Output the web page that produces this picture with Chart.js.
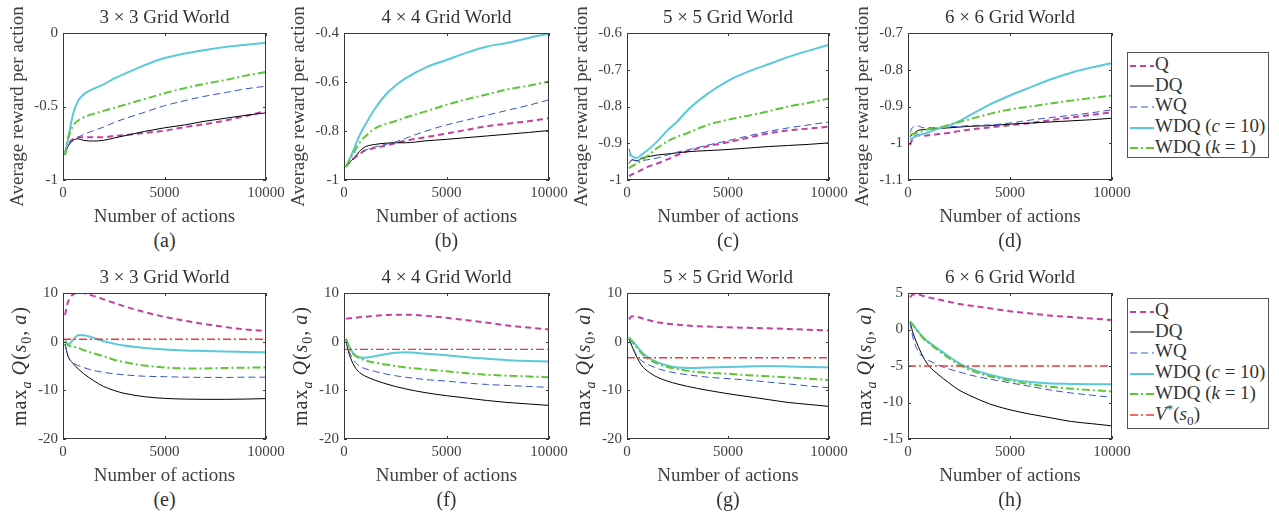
<!DOCTYPE html>
<html>
<head>
<meta charset="utf-8">
<script src="https://cdn.jsdelivr.net/npm/chart.js@4.4.1/dist/chart.umd.min.js"></script>
<style>
    body { margin: 0; background: #fff; }
    #fig { position: relative; width: 1279px; height: 525px; overflow: hidden; font-family: 'Liberation Serif', 'Times New Roman', Times, serif; color: #333; }
    #fig canvas { position: absolute; }
    .txt { position: absolute; white-space: nowrap; text-align: center; height: 24px; line-height: 24px; }
    .legend { position: absolute; border: 1px solid #555; background: #fff; font-size: 19px; }
    .legend .row { position: absolute; left: 2px; height: 22px; line-height: 22px; white-space: nowrap; }
    .legend svg { vertical-align: middle; margin-right: 1px; }
    sub, sup { font-size: 70%; line-height: 0; }
</style>
</head>
<body>
<div id="fig"></div>
<script>
const actions = [100, 250, 500, 750, 1000, 1500, 2000, 2500, 3000, 4000, 5000, 6000, 7000, 8000, 9000, 10000]
const xTicks = [0, 5000, 10000]

// average reward per action
const rew3Q = [-0.81, -0.76, -0.72, -0.71, -0.71, -0.71, -0.71, -0.70, -0.695, -0.68, -0.665, -0.64, -0.62, -0.595, -0.565, -0.53]
const rew3DQ = [-0.82, -0.77, -0.73, -0.72, -0.73, -0.735, -0.73, -0.715, -0.70, -0.67, -0.645, -0.625, -0.60, -0.58, -0.56, -0.543]
const rew3WQ = [-0.83, -0.77, -0.73, -0.71, -0.69, -0.665, -0.64, -0.61, -0.585, -0.54, -0.495, -0.46, -0.43, -0.405, -0.38, -0.362]
const rew3WDQc = [-0.83, -0.72, -0.55, -0.46, -0.42, -0.38, -0.35, -0.31, -0.28, -0.22, -0.17, -0.14, -0.115, -0.095, -0.08, -0.066]
const rew3WDQk = [-0.83, -0.72, -0.63, -0.595, -0.575, -0.55, -0.53, -0.51, -0.49, -0.45, -0.41, -0.375, -0.345, -0.32, -0.29, -0.265]

const rew4Q = [-0.946, -0.93, -0.91, -0.895, -0.88, -0.87, -0.86, -0.85, -0.84, -0.825, -0.81, -0.795, -0.78, -0.77, -0.76, -0.748]
const rew4DQ = [-0.946, -0.93, -0.91, -0.884, -0.866, -0.855, -0.85, -0.848, -0.848, -0.84, -0.834, -0.827, -0.82, -0.813, -0.806, -0.798]
const rew4WQ = [-0.946, -0.93, -0.91, -0.89, -0.88, -0.865, -0.855, -0.845, -0.83, -0.80, -0.775, -0.755, -0.735, -0.715, -0.695, -0.673]
const rew4WDQc = [-0.946, -0.92, -0.87, -0.82, -0.78, -0.71, -0.655, -0.615, -0.585, -0.54, -0.51, -0.48, -0.455, -0.44, -0.42, -0.403]
const rew4WDQk = [-0.946, -0.92, -0.885, -0.85, -0.825, -0.79, -0.772, -0.76, -0.745, -0.72, -0.693, -0.67, -0.65, -0.63, -0.615, -0.598]

const rew5Q = [-0.99, -0.985, -0.978, -0.972, -0.965, -0.955, -0.944, -0.932, -0.922, -0.908, -0.897, -0.885, -0.873, -0.865, -0.86, -0.855]
const rew5DQ = [-0.955, -0.945, -0.948, -0.94, -0.937, -0.932, -0.929, -0.926, -0.923, -0.92, -0.917, -0.913, -0.909, -0.906, -0.903, -0.899]
const rew5WQ = [-0.915, -0.94, -0.948, -0.947, -0.945, -0.94, -0.932, -0.924, -0.918, -0.905, -0.893, -0.88, -0.868, -0.858, -0.85, -0.842]
const rew5WDQc = [-0.93, -0.935, -0.94, -0.93, -0.92, -0.895, -0.865, -0.84, -0.81, -0.765, -0.73, -0.705, -0.685, -0.665, -0.648, -0.632]
const rew5WDQk = [-0.968, -0.962, -0.955, -0.945, -0.935, -0.913, -0.895, -0.882, -0.872, -0.85, -0.836, -0.825, -0.813, -0.80, -0.79, -0.778]

const rew6Q = [-1.005, -0.985, -0.978, -0.98, -0.978, -0.975, -0.972, -0.967, -0.963, -0.957, -0.951, -0.945, -0.937, -0.93, -0.923, -0.916]
const rew6DQ = [-0.982, -0.975, -0.965, -0.963, -0.962, -0.96, -0.958, -0.956, -0.954, -0.952, -0.948, -0.945, -0.942, -0.939, -0.936, -0.932]
const rew6WQ = [-0.97, -0.955, -0.953, -0.958, -0.958, -0.957, -0.955, -0.954, -0.952, -0.95, -0.945, -0.937, -0.93, -0.924, -0.917, -0.909]
const rew6WDQc = [-0.99, -0.985, -0.978, -0.975, -0.97, -0.96, -0.952, -0.94, -0.925, -0.895, -0.87, -0.848, -0.826, -0.808, -0.794, -0.782]
const rew6WDQk = [-0.977, -0.975, -0.97, -0.966, -0.962, -0.958, -0.95, -0.943, -0.935, -0.92, -0.908, -0.9, -0.892, -0.884, -0.877, -0.87]

// max_a Q(s0, a)
const q3Q = [5.5, 8.2, 9.7, 10.1, 10.0, 9.4, 8.7, 8.0, 7.3, 6.1, 5.1, 4.3, 3.6, 3.0, 2.5, 2.2]
const q3DQ = [-0.5, -3.0, -4.5, -5.6, -6.5, -8.0, -9.2, -10.0, -10.6, -11.3, -11.65, -11.8, -11.85, -11.85, -11.8, -11.7]
const q3WQ = [-0.5, -3.0, -4.3, -4.9, -5.3, -5.9, -6.3, -6.6, -6.8, -7.1, -7.2, -7.3, -7.35, -7.35, -7.3, -7.3]
const q3WDQc = [0.3, -0.6, 0.4, 1.3, 1.3, 0.8, 0.1, -0.4, -0.8, -1.3, -1.6, -1.8, -1.9, -2.0, -2.1, -2.2]
const q3WDQk = [0, -0.7, -1.0, -1.3, -1.7, -2.4, -3.0, -3.7, -4.2, -4.9, -5.3, -5.5, -5.5, -5.4, -5.35, -5.3]

const q4Q = [4.7, 4.8, 4.9, 5.0, 5.1, 5.3, 5.45, 5.55, 5.55, 5.3, 4.9, 4.4, 3.9, 3.3, 2.9, 2.5]
const q4DQ = [0, -2.5, -5.0, -6.3, -7.0, -7.9, -8.6, -9.2, -9.7, -10.5, -11.1, -11.6, -12.1, -12.5, -12.8, -13.1]
const q4WQ = [0.3, -2.0, -4.0, -5.0, -5.5, -6.1, -6.6, -7.0, -7.3, -7.8, -8.1, -8.5, -8.8, -9.0, -9.2, -9.4]
const q4WDQc = [0.6, -1.0, -2.6, -3.2, -3.3, -3.0, -2.6, -2.3, -2.2, -2.5, -2.8, -3.2, -3.5, -3.8, -3.95, -4.1]
const q4WDQk = [0.6, -1.3, -2.7, -3.4, -3.8, -4.3, -4.7, -5.0, -5.3, -5.7, -6.1, -6.5, -6.8, -7.0, -7.15, -7.3]

const q5Q = [4.6, 5.2, 5.1, 4.8, 4.5, 4.0, 3.7, 3.5, 3.3, 3.1, 2.95, 2.85, 2.75, 2.6, 2.45, 2.3]
const q5DQ = [0.5, -1.0, -3.3, -5.0, -6.0, -7.3, -8.1, -8.7, -9.2, -10.0, -10.7, -11.3, -11.9, -12.5, -12.9, -13.3]
const q5WQ = [0.5, -0.8, -3.0, -4.0, -4.6, -5.5, -6.1, -6.5, -6.8, -7.3, -7.6, -7.9, -8.3, -8.7, -9.1, -9.5]
const q5WDQc = [0.8, 0.2, -1.0, -2.2, -3.1, -4.2, -4.9, -5.3, -5.4, -5.3, -5.2, -5.1, -5.0, -5.1, -5.2, -5.3]
const q5WDQk = [0.8, 0.0, -1.3, -2.5, -3.4, -4.5, -5.2, -5.6, -6.0, -6.4, -6.6, -6.9, -7.1, -7.35, -7.6, -7.9]

const q6Q = [4.4, 4.8, 4.8, 4.6, 4.4, 4.1, 3.8, 3.5, 3.3, 2.9, 2.5, 2.2, 1.9, 1.7, 1.5, 1.3]
const q6DQ = [1.0, -0.5, -2.3, -3.8, -4.9, -6.2, -7.3, -8.3, -9.0, -10.2, -11.0, -11.6, -12.1, -12.6, -12.9, -13.2]
const q6WQ = [1.0, -1.2, -3.0, -3.8, -4.2, -4.9, -5.4, -5.8, -6.2, -6.8, -7.3, -7.8, -8.3, -8.7, -9.0, -9.3]
const q6WDQc = [1.1, 0.6, -0.3, -1.1, -1.7, -2.7, -3.7, -4.6, -5.3, -6.2, -6.8, -7.2, -7.4, -7.45, -7.5, -7.5]
const q6WDQk = [1.1, 0.6, -0.3, -1.2, -1.8, -2.9, -3.9, -4.8, -5.5, -6.4, -7.0, -7.5, -7.85, -8.1, -8.3, -8.5]

// optimal value V*(s0)
const vstar = [0.5, -1.6, -3.3, -5]

const yTicksRew3 = [-1, -0.5, 0]
const yTicksRew4 = [-1, -0.8, -0.6, -0.4]
const yTicksRew5 = [-1, -0.9, -0.8, -0.7, -0.6]
const yTicksRew6 = [-1.1, -1, -0.9, -0.8, -0.7]
const yTicksQ = [-20, -10, 0, 10]
const yTicksQ6 = [-15, -10, -5, 0, 5]

const gridNames = ['3 × 3 Grid World', '4 × 4 Grid World', '5 × 5 Grid World', '6 × 6 Grid World']
const captions = ['(a)', '(b)', '(c)', '(d)', '(e)', '(f)', '(g)', '(h)']
const seriesNames = ['Q', 'DQ', 'WQ', 'WDQ (<i>c</i> = 10)', 'WDQ (<i>k</i> = 1)', '<i>V</i><sup>*</sup>(<i>s</i><sub>0</sub>)']

// look of each series (Q, DQ, WQ, WDQ c, WDQ k, V*)
const styles = [
    { color: '#c2409f', width: 2, dash: [6, 4] },
    { color: '#000000', width: 1, dash: [] },
    { color: '#3355cc', width: 1, dash: [7, 4] },
    { color: '#5cc8dc', width: 2, dash: [] },
    { color: '#5fc43a', width: 2, dash: [8, 3, 2, 3] },
    { color: '#ec3a3a', width: 1.3, dash: [8, 3, 2, 3] },
]

// plot boxes in page pixels
const colL = [63, 344, 627, 908]
const colR = [266, 549, 829, 1112]
const rowT = [33, 293]
const rowB = [180, 439]

const fig = document.getElementById('fig')
Chart.defaults.font.family = "'Liberation Serif', 'Times New Roman', Times, serif"
Chart.defaults.color = '#404040'

const boxPlugin = {
    id: 'box',
    afterDraw(chart) {
        const { ctx, chartArea: a, scales } = chart
        ctx.save()
        ctx.strokeStyle = '#3a3a3a'
        ctx.lineWidth = 1
        ctx.setLineDash([])
        ctx.strokeRect(a.left + 0.5, a.top + 0.5, a.right - a.left - 1, a.bottom - a.top - 1)
        ctx.beginPath()
        scales.x.ticks.forEach(t => {
            const px = Math.round(scales.x.getPixelForValue(t.value)) + 0.5
            ctx.moveTo(px, a.bottom); ctx.lineTo(px, a.bottom - 3)
            ctx.moveTo(px, a.top); ctx.lineTo(px, a.top + 3)
        })
        scales.y.ticks.forEach(t => {
            const py = Math.round(scales.y.getPixelForValue(t.value)) + 0.5
            ctx.moveTo(a.left, py); ctx.lineTo(a.left + 3, py)
            ctx.moveTo(a.right, py); ctx.lineTo(a.right - 3, py)
        })
        ctx.stroke()
        ctx.restore()
    }
}

// centred text box, optionally turned to read bottom-up
function addText(html, x, y, size, rotate) {
    const d = document.createElement('div')
    const w = 200
    d.className = 'txt'
    d.innerHTML = html
    d.style.fontSize = size + 'px'
    d.style.width = w + 'px'
    d.style.left = (x - w / 2) + 'px'
    d.style.top = (y - 12) + 'px'
    if (rotate) {
        d.style.transform = 'rotate(-90deg)'
        d.style.letterSpacing = '1px'
    }
    fig.appendChild(d)
}

function makePanel(row, col, series, yTicks, vline) {
    const L = colL[col], R = colR[col], T = rowT[row], B = rowB[row]
    const padTop = 33, padRight = 26, yW = 62, xH = 48
    const cv = document.createElement('canvas')
    const w = R - L + yW + padRight, h = B - T + padTop + xH
    cv.width = w; cv.height = h
    cv.style.left = (L - yW) + 'px'
    cv.style.top = (T - padTop) + 'px'
    cv.style.width = w + 'px'; cv.style.height = h + 'px'
    fig.appendChild(cv)

    const all = vline === undefined ? series : series.concat([xTicks.map(() => vline)])
    const datasets = all.map((vals, i) => {
        const xs = vals.length === xTicks.length ? xTicks : actions
        return {
            data: xs.map((x, j) => ({ x: x, y: vals[j] })),
            borderColor: styles[i].color,
            borderWidth: styles[i].width,
            borderDash: styles[i].dash,
            pointRadius: 0,
            fill: false,
            cubicInterpolationMode: 'monotone',
            order: all.length - i,
        }
    })

    new Chart(cv, {
        type: 'line',
        data: { datasets: datasets },
        plugins: [boxPlugin],
        options: {
            responsive: false,
            animation: false,
            events: [],
            layout: { padding: { top: padTop, right: padRight, left: 0, bottom: 0 } },
            plugins: { legend: { display: false }, tooltip: { enabled: false } },
            scales: {
                x: {
                    type: 'linear', min: 0, max: 10000,
                    grid: { display: false, drawTicks: false },
                    border: { display: false },
                    afterBuildTicks: s => { s.ticks = xTicks.map(v => ({ value: v })) },
                    afterFit: s => { s.height = xH },
                    ticks: { font: { size: 15 }, padding: 4, maxRotation: 0, autoSkip: false, callback: v => String(v) },
                    title: { display: true, text: 'Number of actions', font: { size: 19 }, padding: { top: 0, bottom: 0 }, color: '#404040' },
                },
                y: {
                    type: 'linear', min: yTicks[0], max: yTicks[yTicks.length - 1],
                    grid: { display: false, drawTicks: false },
                    border: { display: false },
                    afterBuildTicks: s => { s.ticks = yTicks.map(v => ({ value: v })) },
                    afterFit: s => { s.width = yW },
                    ticks: { font: { size: 15 }, padding: 5, autoSkip: false, callback: v => String(v) },
                    title: { display: row === 0, text: 'Average reward per action', font: { size: 19 }, padding: { top: 6, bottom: 0 }, color: '#404040' },
                },
            },
        },
    })

    addText(gridNames[col], (L + R) / 2, T - 16, 19)
    addText(captions[row * 4 + col], (L + R) / 2, B + 60, 20)
    if (row === 1) {
        addText('max<sub><i>a</i></sub>&thinsp;<i>Q</i>(<i>s</i><sub>0</sub>,&thinsp;<i>a</i>)', L - 44, (T + B) / 2, 20, true)
    }
}

makePanel(0, 0, [rew3Q, rew3DQ, rew3WQ, rew3WDQc, rew3WDQk], yTicksRew3)
makePanel(0, 1, [rew4Q, rew4DQ, rew4WQ, rew4WDQc, rew4WDQk], yTicksRew4)
makePanel(0, 2, [rew5Q, rew5DQ, rew5WQ, rew5WDQc, rew5WDQk], yTicksRew5)
makePanel(0, 3, [rew6Q, rew6DQ, rew6WQ, rew6WDQc, rew6WDQk], yTicksRew6)
makePanel(1, 0, [q3Q, q3DQ, q3WQ, q3WDQc, q3WDQk], yTicksQ, vstar[0])
makePanel(1, 1, [q4Q, q4DQ, q4WQ, q4WDQc, q4WDQk], yTicksQ, vstar[1])
makePanel(1, 2, [q5Q, q5DQ, q5WQ, q5WDQc, q5WDQk], yTicksQ, vstar[2])
makePanel(1, 3, [q6Q, q6DQ, q6WQ, q6WDQc, q6WDQk], yTicksQ6, vstar[3])

// legends
function makeLegend(top, height, count) {
    const box = document.createElement('div')
    box.className = 'legend'
    box.style.left = '1127px'; box.style.top = top + 'px'
    box.style.width = '140px'; box.style.height = height + 'px'
    for (let i = 0; i < count; i++) {
        const st = styles[i]
        const row = document.createElement('div')
        row.className = 'row'
        row.style.top = (i * 20.7) + 'px'
        row.innerHTML = '<svg width="24" height="4"><line x1="0" y1="2" x2="24" y2="2" stroke="' + st.color +
            '" stroke-width="' + st.width + '" stroke-dasharray="' + (st.dash.length ? st.dash.join(' ') : 'none') + '"/></svg>' + seriesNames[i]
        box.appendChild(row)
    }
    fig.appendChild(box)
}
makeLegend(52, 104, 5)
makeLegend(298, 129, 6)
</script>
</body>
</html>
